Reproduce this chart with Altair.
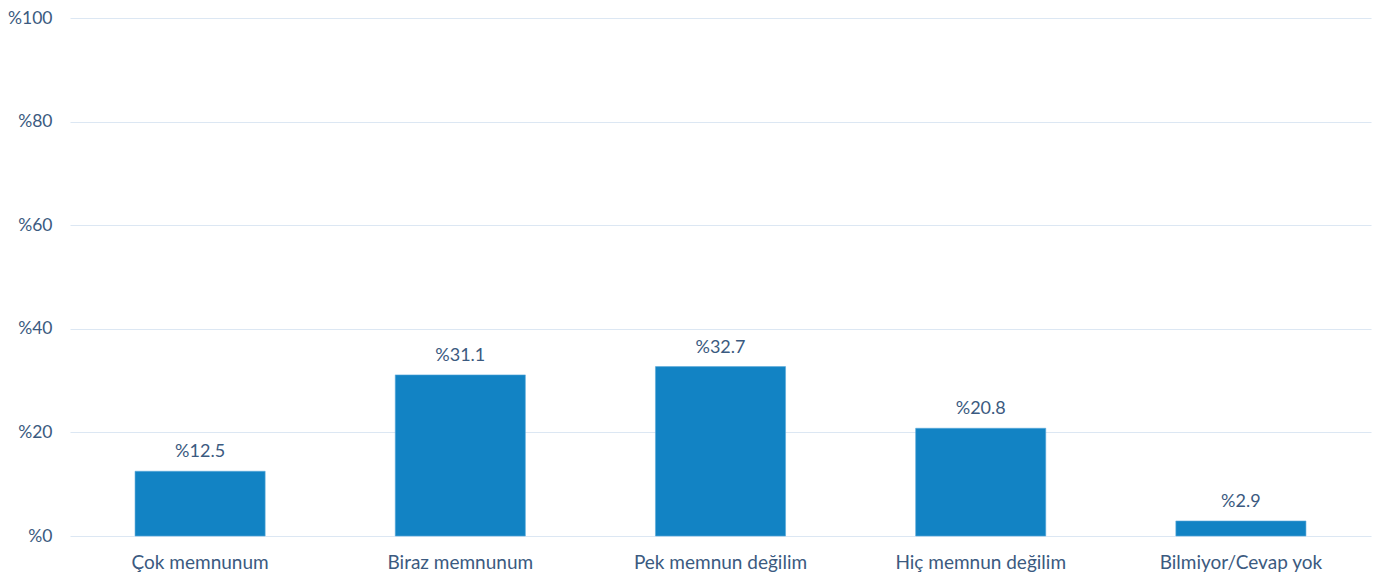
import altair as alt
import pandas as pd

categories = ["Çok memnunum", "Biraz memnunum", "Pek memnun değilim", "Hiç memnun değilim", "Bilmiyor/Cevap yok"]
values = [12.5, 31.1, 32.7, 20.8, 2.9]

df = pd.DataFrame({"cat": categories, "val": values})

FONT = "Lato"
TXT = "#3b5a80"

base = alt.Chart(df).encode(
    x=alt.X("cat:N", sort=categories, title=None,
            scale=alt.Scale(paddingInner=0.5, paddingOuter=0.25),
            axis=alt.Axis(labelAngle=0, labelFontSize=19, labelColor=TXT, labelFont=FONT,
                          labelPadding=17, ticks=False, domain=False)),
)

bars = base.mark_bar(color="#1283C4", stroke="#5aa9da", strokeWidth=0.6).encode(
    y=alt.Y("val:Q", title=None,
            scale=alt.Scale(domain=[0, 100]),
            axis=alt.Axis(values=[0, 20, 40, 60, 80, 100], labelExpr="'%' + datum.value",
                          labelFontSize=17.5, labelColor=TXT, labelFont=FONT, labelPadding=18,
                          ticks=False, domain=False, gridColor="#dce7f3", gridWidth=1.2))
)

labels = base.transform_calculate(
    lbl="'%' + format(datum.val, '.1f')"
).mark_text(dy=-19, fontSize=18, color=TXT, font=FONT).encode(
    y=alt.Y("val:Q"), text="lbl:N"
)

chart = (bars + labels).properties(
    width=1301, height=518,
    autosize=alt.AutoSizeParams(type="none"),
    padding={"left": 62, "top": 10, "right": 4, "bottom": 40},
    background="white",
).configure_view(stroke=None)

chart.save("out.html", embed_options={"renderer": "svg", "actions": False})
